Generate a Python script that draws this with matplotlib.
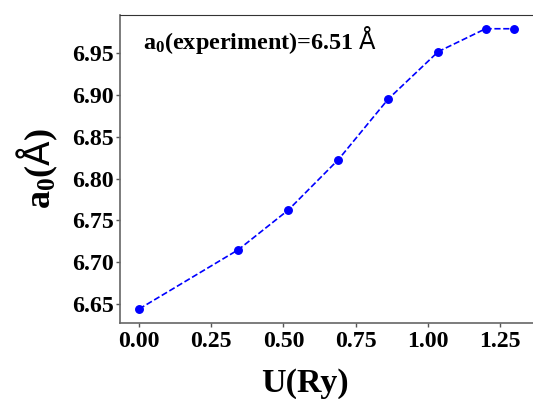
import matplotlib
matplotlib.use('Agg')
import matplotlib.pyplot as plt

# Hubbard U (Ry) and lattice parameter a0 (Angstrom)
U_values = [0.0, 0.344, 0.517, 0.69, 0.863, 1.036, 1.2, 1.3]
a0_values = [6.644, 6.715, 6.7625, 6.8227, 6.8953, 6.952, 6.9794, 6.9794]
x_ticks = [0.00, 0.25, 0.50, 0.75, 1.00, 1.25]
y_ticks = [6.65, 6.70, 6.75, 6.80, 6.85, 6.90, 6.95]

plt.rcParams['font.family'] = ['Liberation Serif', 'DejaVu Sans']
plt.rcParams['font.weight'] = 'bold'
plt.rcParams['mathtext.fontset'] = 'custom'
plt.rcParams['mathtext.rm'] = 'Liberation Serif:bold'
plt.rcParams['mathtext.it'] = 'Liberation Serif:bold'
plt.rcParams['mathtext.sf'] = 'DejaVu Sans:weight=normal'
plt.rcParams['mathtext.default'] = 'rm'

fig = plt.figure(figsize=(5.33, 3.99), dpi=100)
# axes run past the right edge of the picture, as in the cropped original
ax = fig.add_axes([119.7/533, 76/399, 430.3/533, 308.3/399])

ax.plot(U_values, a0_values, 'b--o', markersize=5.4, linewidth=1.2)
ax.set_xlim(-0.0668, 1.423)
ax.set_ylim(6.6273, 6.9962)

ax.set_xticks(x_ticks)
ax.set_xticklabels(['%.2f' % v for v in x_ticks])
ax.set_yticks(y_ticks)
ax.set_yticklabels(['%.2f' % v for v in y_ticks])
ax.tick_params(labelsize=17.2, width=1.0, length=3, color='#555555')
ax.tick_params(axis='y', pad=1)
ax.tick_params(axis='x', pad=3)
for lab in ax.get_xticklabels() + ax.get_yticklabels():
    lab.set_fontweight('bold')

for side in ['left', 'bottom']:
    ax.spines[side].set_color('#666666')
    ax.spines[side].set_linewidth(1.2)
ax.spines['top'].set_color('#333333')

ax.set_xlabel('U(Ry)', fontsize=24.5, fontweight='bold')
ax.xaxis.set_label_coords(0.4306, -0.147)
ax.set_ylabel(r'a$_0$($\mathsf{Å}$)', fontsize=26, fontweight='bold', labelpad=9)

ax.text(0.0548, 0.889, r'a$_0$(experiment)=6.51 $\mathsf{Å}$', transform=ax.transAxes,
        fontsize=17.4, fontweight='bold')

fig.savefig('out.png', dpi=100)
